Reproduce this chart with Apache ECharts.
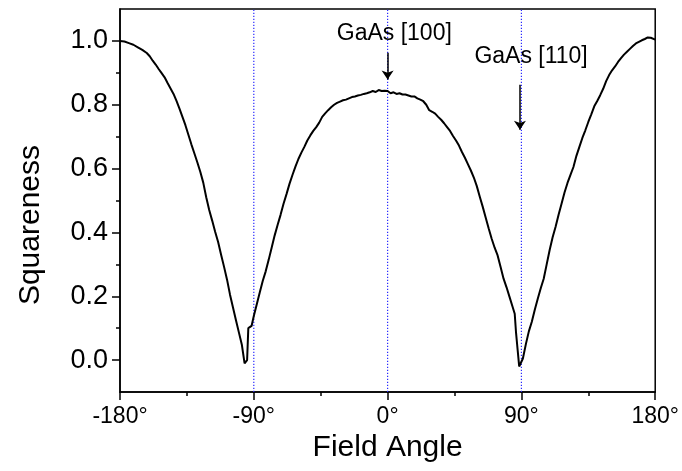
<!DOCTYPE html>
<html>
<head>
<meta charset="utf-8">
<script src="https://cdn.jsdelivr.net/npm/echarts@6/dist/echarts.min.js"></script>
<style>html,body{margin:0;padding:0;background:#fff;}#c{width:682px;height:471px;}</style>
</head>
<body>
<div id="c"></div>
<script>
var angles = [-180,-177,-174,-171,-168,-165,-162,-160,-158,-156,-154,-152,-150,-148,-146,-144,-142,-140,-138,-136,-134,-132,-130,-128,-126,-124,-122,-120,-118,-116,-114,-112,-110,-108,-106,-104,-102,-100,-98,-96.2,-95,-94.5,-93.7,-92.5,-91.5,-90,-88,-86,-84,-82,-80,-78,-76,-74,-72,-70,-68,-66,-64,-62,-60,-58,-56,-54,-52,-50,-48,-46,-44,-42,-40,-38,-36,-34,-32,-30,-28,-26,-24,-22,-20,-18,-16,-14,-12,-10,-8,-6,-4,-2,0,2,4,6,8,10,12,14,16,18,20,22,24,26,28,30,32,34,36,38,40,42,44,46,48,50,52,54,56,58,60,62,64,66,68,70,72,74,76,78,80,82,84,85.5,86.4,87.5,88.5,89.5,91,93,95,97,99,101,103,105,107,109,111,113,115,117,119,121,123,125,127,129,131,133,135,137,139,141,143,145,147,149,151,153,155,157,159,161,163,165,167,169,171,173,175,177,178,180];
var squareness = [1.000,0.998,0.993,0.988,0.980,0.972,0.962,0.952,0.938,0.926,0.912,0.899,0.886,0.868,0.851,0.834,0.812,0.788,0.762,0.736,0.706,0.676,0.648,0.620,0.590,0.556,0.510,0.470,0.437,0.402,0.370,0.330,0.292,0.252,0.205,0.165,0.125,0.086,0.047,-0.010,-0.005,0.000,0.100,0.103,0.107,0.138,0.175,0.212,0.248,0.278,0.314,0.352,0.390,0.423,0.455,0.490,0.520,0.552,0.580,0.606,0.630,0.650,0.668,0.688,0.704,0.718,0.730,0.744,0.762,0.773,0.783,0.792,0.800,0.806,0.810,0.814,0.816,0.820,0.824,0.826,0.829,0.831,0.834,0.836,0.839,0.843,0.840,0.846,0.843,0.844,0.843,0.836,0.839,0.834,0.836,0.832,0.832,0.829,0.826,0.826,0.820,0.816,0.811,0.800,0.783,0.778,0.772,0.762,0.753,0.742,0.730,0.718,0.702,0.688,0.672,0.652,0.634,0.614,0.594,0.572,0.545,0.512,0.480,0.446,0.412,0.380,0.352,0.328,0.292,0.255,0.228,0.198,0.168,0.145,0.085,0.030,-0.020,-0.015,0.005,0.050,0.090,0.120,0.158,0.192,0.225,0.255,0.300,0.345,0.385,0.418,0.455,0.490,0.525,0.555,0.580,0.605,0.640,0.668,0.696,0.720,0.746,0.770,0.795,0.812,0.830,0.850,0.874,0.893,0.908,0.920,0.934,0.946,0.957,0.966,0.975,0.984,0.992,0.997,1.002,1.006,1.011,1.010,1.013,1.004];
var xTickLabels = [-180,-90,0,90,180];
var yRange = [-0.1,1.1];
var yMajorTicks = [0,0.2,0.4,0.6,0.8,1.0];
var yMinorTicks = [0.1,0.3,0.5,0.7,0.9];
var markerAngles = [-90,0,90];
var annotTexts = ['GaAs [100]','GaAs [110]'];
var annotTextPos = [[4.5,1.023],[96.5,0.952]];
var arrowFrom = [[0,0.963],[89,0.863]];
var arrowTo = [[0,0.879],[89,0.722]];

var FONT = 'Liberation Sans, Arial, sans-serif';
var data = angles.map(function(a,i){return [a,squareness[i]];});
var BLUE = '#2a2aff';

var markerSeries = markerAngles.map(function(a){
  return {
    type:'line',data:[[a,yRange[0]],[a,yRange[1]]],showSymbol:false,silent:true,z:1,
    color:BLUE,
    lineStyle:{color:BLUE,type:[1.2,1.8],width:1.2}
  };
});

var chart = echarts.init(document.getElementById('c'), null, {renderer:'canvas'});
chart.setOption({
  animation:false,
  backgroundColor:'#fff',
  grid:{left:120,right:26,top:9,bottom:79,show:true,borderColor:'#000',borderWidth:1.5,backgroundColor:'transparent'},
  graphic:[{
    type:'text',left:16,top:145,rotation:Math.PI/2,
    style:{text:'Squareness',fontFamily:FONT,fontSize:30,fill:'#000'}
  }],
  xAxis:{
    type:'value',min:-180,max:180,interval:90,
    name:'Field Angle',nameLocation:'middle',nameGap:40,
    nameTextStyle:{fontFamily:FONT,fontSize:30,color:'#000'},
    axisLine:{show:true,onZero:false,lineStyle:{color:'#000',width:1.5}},
    axisTick:{show:true,length:8,lineStyle:{color:'#000',width:1.5}},
    minorTick:{show:true,splitNumber:2,length:4,lineStyle:{color:'#000',width:1.5}},
    axisLabel:{fontFamily:FONT,fontSize:23,color:'#000',margin:13,formatter:function(v){return v+'°';}},
    splitLine:{show:false}
  },
  yAxis:[{
    type:'value',min:yRange[0],max:yRange[1],
    axisLine:{show:true,onZero:false,lineStyle:{color:'#000',width:1.5}},
    axisTick:{show:true,length:8,customValues:yMajorTicks,lineStyle:{color:'#000',width:1.5}},
    axisLabel:{fontFamily:FONT,fontSize:27,color:'#000',margin:12,customValues:yMajorTicks,formatter:function(v){return v.toFixed(1);}},
    splitLine:{show:false}
  },{
    type:'value',min:yRange[0],max:yRange[1],position:'left',offset:0,
    axisLine:{show:false,onZero:false},
    axisTick:{show:true,length:4,customValues:yMinorTicks,lineStyle:{color:'#000',width:1.5}},
    axisLabel:{show:false},
    splitLine:{show:false}
  }],
  series:markerSeries.concat([{
    type:'line',data:data,showSymbol:false,yAxisIndex:0,z:3,
    color:'#000',
    lineStyle:{color:'#000',width:2}
  },{
    type:'line',data:[],yAxisIndex:0,z:4,color:'#000',
    markLine:{
      silent:true,symbol:['none','arrow'],symbolSize:9,
      label:{show:false},
      itemStyle:{color:'#000'},
      lineStyle:{color:'#000',type:'solid',width:1.5},
      data:arrowFrom.map(function(f,i){return [{coord:f},{coord:arrowTo[i]}];})
    },
    markPoint:{
      silent:true,symbol:'circle',symbolSize:1,itemStyle:{color:'rgba(0,0,0,0)'},
      label:{show:true,position:'inside',fontFamily:FONT,fontSize:23,color:'#000',formatter:function(p){return p.name;}},
      data:annotTexts.map(function(t,i){return {name:t,coord:annotTextPos[i]};})
    }
  }])
});
</script>
</body>
</html>
